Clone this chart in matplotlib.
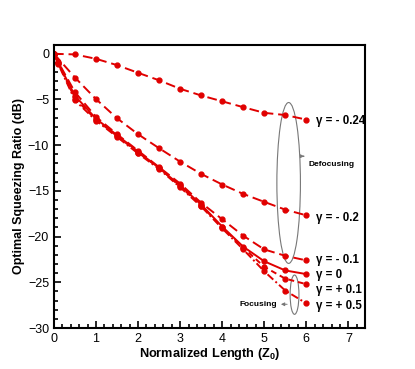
import matplotlib
matplotlib.use("Agg")
import matplotlib.pyplot as plt
from matplotlib.patches import Ellipse
from matplotlib.ticker import MultipleLocator

# normalized length
x_upper = [0, 0.5, 1, 1.5, 2, 2.5, 3, 3.5, 4, 4.5, 5, 5.5, 6]
x_lower = [0, 0.1, 0.5, 1, 1.5, 2, 2.5, 3, 3.5, 4, 4.5, 5, 5.5, 6]

# optimal squeezing ratio (dB)
g_m024 = [0, -0.07, -0.55, -1.24, -2.08, -2.9, -3.83, -4.56, -5.2, -5.84, -6.46, -6.7, -7.2]
g_m02 = [0, -2.6, -4.96, -7.05, -8.8, -10.33, -11.8, -13.14, -14.3, -15.33, -16.2, -17.05, -17.67]
g_m01 = [0, -0.9, -4.2, -6.9, -8.8, -10.6, -12.4, -14.2, -16.3, -18.1, -19.9, -21.4, -22.1, -22.6]
g_0 = [0, -1.0, -4.6, -7.1, -8.9, -10.7, -12.5, -14.4, -16.5, -18.9, -21.1, -22.7, -23.7, -24.1]
g_p01 = [0, -1.0, -4.9, -7.2, -9.0, -10.8, -12.5, -14.5, -16.6, -19.0, -21.2, -23.3, -24.6, -25.2]
g_p05 = [0, -1.1, -5.1, -7.3, -9.1, -10.9, -12.6, -14.6, -16.7, -19.1, -21.4, -23.8, -25.9, -27.3]

labels = ["γ = - 0.24", "γ = - 0.2", "γ = - 0.1", "γ = 0", "γ = + 0.1", "γ = + 0.5"]
label_y = [-7.3, -18.0, -22.6, -24.2, -25.85, -27.6]

red = "#e00000"

plt.rcParams["font.family"] = ["Liberation Sans", "DejaVu Sans"]
fig = plt.figure(figsize=(4.15, 3.69), dpi=100)
ax = fig.add_axes([0.130, 0.111, 0.750, 0.768])

kw = dict(color=red, marker="o", markersize=3.5, linewidth=1.4)
ax.plot(x_upper, g_m024, dashes=(5, 2.5), **kw)
ax.plot(x_upper, g_m02, dashes=(5, 2.5), **kw)
ax.plot(x_lower, g_m01, dashes=(5, 2.5), **kw)
ax.plot(x_lower, g_0, linestyle="-", **kw)
ax.plot(x_lower, g_p01, dashes=(3, 2), **kw)
ax.plot(x_lower, g_p05, dashes=(4, 1.5, 1, 1.5), **kw)

for lab, yy in zip(labels, label_y):
    ax.text(6.22, yy, lab, fontsize=8.3, fontweight="bold", va="center", ha="left")

# defocusing ellipse
ax.add_patch(Ellipse((5.58, -14.13), 0.56, 17.6, fill=False, edgecolor="#777777", linewidth=0.8))
ax.annotate("", xy=(5.95, -11.2), xytext=(5.87, -11.2),
            arrowprops=dict(arrowstyle="-|>", color="#777777", lw=0.7, mutation_scale=5))
ax.text(6.05, -12.1, "Defocusing", fontsize=6, fontweight="bold", va="center", ha="left")

# focusing ellipse
ax.add_patch(Ellipse((5.72, -26.35), 0.21, 4.3, fill=False, edgecolor="#777777", linewidth=0.8))
ax.annotate("", xy=(5.33, -27.4), xytext=(5.61, -27.4),
            arrowprops=dict(arrowstyle="-|>", color="#777777", lw=0.7, mutation_scale=5))
ax.text(5.3, -27.4, "Focusing", fontsize=6, fontweight="bold", va="center", ha="right")

ax.set_xlim(0, 7.4)
ax.set_ylim(-30, 1)
ax.xaxis.set_major_locator(MultipleLocator(1))
ax.xaxis.set_minor_locator(MultipleLocator(0.2))
ax.yaxis.set_major_locator(MultipleLocator(5))
ax.yaxis.set_minor_locator(MultipleLocator(1))
ax.tick_params(which="both", direction="in", top=False, right=False, labelsize=9, width=1.2)
ax.tick_params(which="major", length=5)
ax.tick_params(which="minor", length=3)
for s in ax.spines.values():
    s.set_linewidth(1.5)

ax.set_xlabel("Normalized Length (Z$_\\mathregular{0}$)", fontsize=9.2, fontweight="bold", labelpad=1)
ax.set_ylabel("Optimal Squeezing Ratio (dB)", fontsize=9, fontweight="bold", labelpad=2)

fig.savefig("out.png", dpi=100)
